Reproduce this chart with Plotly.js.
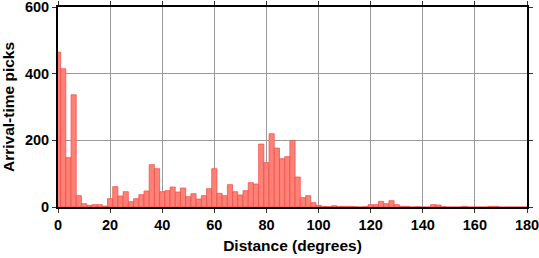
<!DOCTYPE html>
<html>
<head>
<meta charset="utf-8">
<script src="https://cdn.plot.ly/plotly-3.0.1.min.js"></script>
<style>html,body{margin:0;padding:0;background:#fff;}#chart{width:539px;height:258px;}</style>
</head>
<body>
<div id="chart"></div>
<script>
// Bin centers (degrees), 2-degree bins
const distanceBins = [];
for (let d = 0; d <= 180; d += 2) distanceBins.push(d);

// Arrival-time pick counts per bin
const pickCounts = [
  465, 415, 148, 337, 34, 10, 5, 7, 7, 3,
  25, 61, 33, 46, 16, 25, 37, 48, 127, 115,
  46, 49, 60, 45, 57, 31, 40, 24, 34, 55,
  115, 41, 34, 67, 46, 36, 49, 73, 69, 189,
  133, 220, 177, 145, 151, 200, 90, 28, 34, 13,
  5, 2, 1, 4, 2, 2, 2, 1, 0, 1,
  7, 7, 17, 10, 19, 7, 2, 2, 0, 1,
  0, 0, 7, 6, 1, 0, 0, 0, 2, 0,
  0, 0, 0, 2, 2, 0, 0, 0, 0, 0,
  0
];

const xTicks = [0, 20, 40, 60, 80, 100, 120, 140, 160, 180];
const yTicks = [0, 200, 400, 600];

const fontFam = '"Liberation Sans", Arial, Helvetica, sans-serif';

const trace = {
  type: 'bar',
  x: distanceBins,
  y: pickCounts,
  width: 2,
  marker: {
    color: 'rgb(255,128,118)',
    line: {color: 'rgb(238,75,65)', width: 0.7}
  },
  hoverinfo: 'skip'
};

const axisCommon = {
  showline: true,
  linecolor: '#000',
  linewidth: 2,
  mirror: 'ticks',
  ticks: 'outside',
  ticklen: 4,
  tickwidth: 1,
  tickcolor: '#333',
  showgrid: true,
  gridcolor: '#9a9a9a',
  gridwidth: 1,
  zeroline: false,
  ticklabeloverflow: 'allow',
  tickfont: {family: fontFam, size: 14.5, color: '#000', weight: 'bold'}
};

const layout = {
  width: 539,
  height: 258,
  margin: {l: 58, r: 12, t: 7, b: 51},
  paper_bgcolor: '#fff',
  plot_bgcolor: '#fff',
  bargap: 0,
  showlegend: false,
  xaxis: Object.assign({}, axisCommon, {
    range: [0, 180],
    tickmode: 'array',
    tickvals: xTicks,
    ticktext: xTicks.map(String),
    title: {text: 'Distance (degrees)', font: {family: fontFam, size: 15.5, color: '#000', weight: 'bold'}, standoff: 8}
  }),
  yaxis: Object.assign({}, axisCommon, {
    range: [0, 600.4],
    tickmode: 'array',
    tickvals: yTicks,
    ticktext: yTicks.map(String),
    title: {text: 'Arrival-time picks', font: {family: fontFam, size: 15.5, color: '#000', weight: 'bold'}, standoff: 6}
  })
};

Plotly.newPlot('chart', [trace], layout, {staticPlot: true, displayModeBar: false});
</script>
</body>
</html>
